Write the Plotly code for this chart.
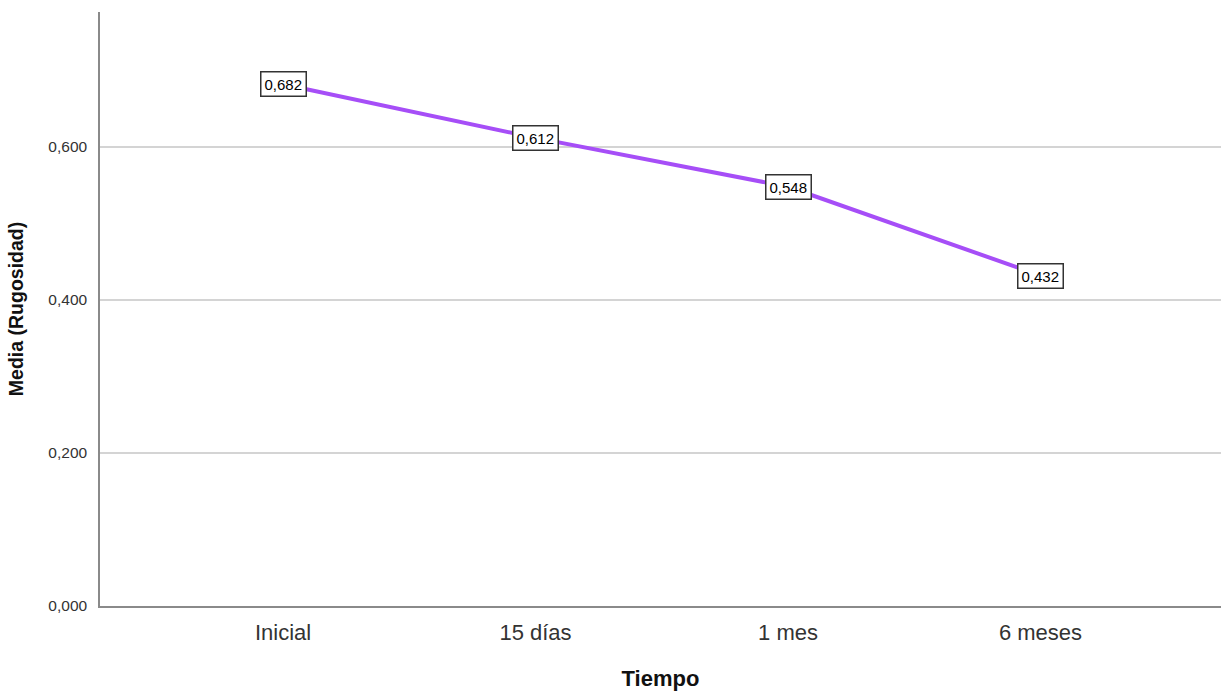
import plotly.graph_objects as go

categories = ["Inicial", "15 días", "1 mes", "6 meses"]
values = [0.682, 0.612, 0.548, 0.432]
y_ticks = [0.0, 0.2, 0.4, 0.6]

line_color = "#a64ef7"

fig = go.Figure()
fig.add_trace(go.Scatter(
    x=categories, y=values, mode="lines",
    line=dict(color=line_color, width=4),
    hoverinfo="skip", showlegend=False,
))

for c, v in zip(categories, values):
    fig.add_annotation(
        x=c, y=v, xref="x", yref="y",
        text=f"{v:.3f}".replace(".", ","),
        showarrow=False,
        font=dict(family="Liberation Sans, Arial", size=15, color="#000"),
        bgcolor="white", bordercolor="#333", borderwidth=1.5, borderpad=3,
    )

fig.update_layout(
    width=1221, height=692,
    margin=dict(l=100, r=0, t=12, b=86),
    paper_bgcolor="white", plot_bgcolor="white",
    separators=",.",
    font=dict(family="Liberation Sans, Arial", color="#222"),
    xaxis=dict(
        type="category", range=[-0.725, 3.715],
        showline=True, linecolor="#8a8a8a", linewidth=1.5,
        showgrid=False, ticks="", zeroline=False,
        tickfont=dict(size=22, color="#333"),
        ticklabelstandoff=6,
        title=dict(text="<b>Tiempo</b>", font=dict(size=22, color="#111"), standoff=26),
    ),
    yaxis=dict(
        range=[0, 0.7765], tickvals=y_ticks, tickformat=".3f",
        showline=True, linecolor="#8a8a8a", linewidth=1.5,
        showgrid=True, gridcolor="#d4d4d4", gridwidth=1.5,
        ticks="", zeroline=False,
        tickfont=dict(size=15.5, color="#333"),
        ticklabelstandoff=8,
        title=dict(text="<b>Media (Rugosidad)</b>", font=dict(size=19.5, color="#111"), standoff=20),
    ),
)

fig.write_html(
    "out.html",
    config={"displayModeBar": False},
    post_script="document.body.style.margin='0px';document.body.style.overflow='hidden';",
)
